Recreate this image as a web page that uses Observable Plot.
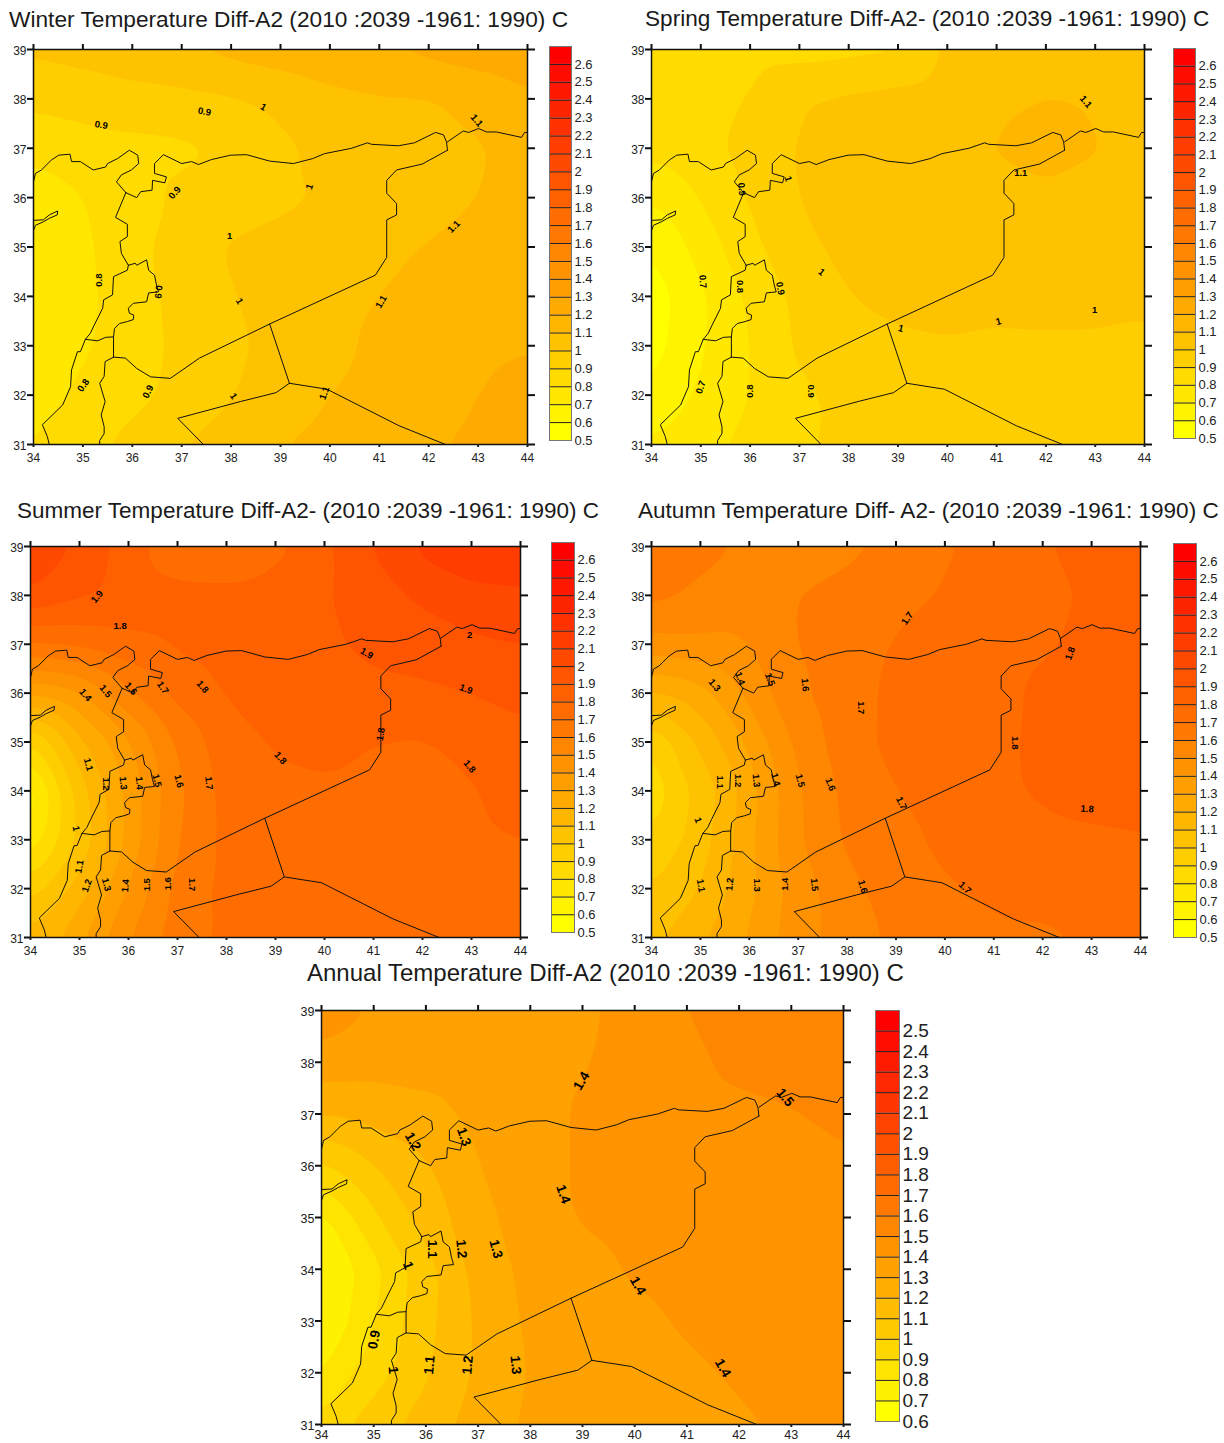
<!DOCTYPE html>
<html>
<head>
<meta charset="utf-8">
<script src="https://cdn.jsdelivr.net/npm/d3@7"></script>
<script src="https://cdn.jsdelivr.net/npm/@observablehq/plot@0.6"></script>
<style>
html,body{margin:0;padding:0;background:#fff}
#root{position:relative;width:1224px;height:1443px;overflow:hidden}
#root>*{position:absolute}
.ttl{font-family:"Liberation Sans",Arial,sans-serif;color:#1a1a1a;white-space:nowrap;line-height:1}
</style>
</head>
<body>
<div id="root"></div>
<script>
const lonColumns = [34,34.5,35,35.5,36,37,38,39,40,41,42,43,44];
const latRows = [39,38,37,36,35,34,33,32,31];
const lonTicks = [34,35,36,37,38,39,40,41,42,43,44];
const latTicks = [31,32,33,34,35,36,37,38,39];

const seasonLevels = [0.5,0.6,0.7,0.8,0.9,1,1.1,1.2,1.3,1.4,1.5,1.6,1.7,1.8,1.9,2,2.1,2.2,2.3,2.4,2.5,2.6];
const annualLevels = [0.6,0.7,0.8,0.9,1,1.1,1.2,1.3,1.4,1.5,1.6,1.7,1.8,1.9,2,2.1,2.2,2.3,2.4,2.5];

const winterValues = [
1.02,1.03,1.04,1.05,1.07,1.10,1.13,1.15,1.18,1.20,1.23,1.26,1.29,
.92,.93,.94,.95,.96,.97,.99,1.03,1.07,1.09,1.09,1.12,1.18,
.84,.85,.86,.87,.87,.88,.91,.98,1.03,1.06,1.08,1.09,1.13,
.72,.76,.80,.83,.86,.92,.95,.98,1.01,1.04,1.07,1.10,1.13,
.74,.76,.78,.82,.86,.96,1.01,1.03,1.05,1.08,1.105,1.13,1.15,
.74,.76,.78,.81,.855,.93,.995,1.04,1.07,1.10,1.13,1.15,1.17,
.74,.76,.785,.82,.86,.92,.98,1.03,1.075,1.12,1.15,1.18,1.195,
.76,.79,.82,.85,.87,.93,.995,1.05,1.10,1.13,1.16,1.20,1.23,
.80,.83,.87,.90,.93,1.0,1.05,1.10,1.13,1.16,1.19,1.22,1.25];

const springValues = [
.91,.90,.88,.87,.86,.86,.87,.88,1.02,1.05,1.07,1.08,1.08,
.84,.85,.87,.885,.905,.995,1.02,1.04,1.06,1.08,1.10,1.09,1.08,
.83,.85,.875,.90,.94,1.01,1.03,1.05,1.07,1.105,1.14,1.105,1.07,
.71,.75,.81,.86,.91,1.005,1.03,1.05,1.06,1.07,1.08,1.07,1.06,
.60,.67,.74,.81,.87,.98,1.02,1.04,1.05,1.05,1.05,1.05,1.04,
.55,.61,.68,.755,.82,.93,1.0,1.03,1.04,1.03,1.04,1.04,1.02,
.56,.62,.69,.75,.80,.92,.96,.98,.99,.98,.98,.98,.98,
.60,.67,.72,.76,.80,.88,.93,.95,.96,.97,.97,.97,.97,
.72,.75,.77,.80,.83,.89,.92,.94,.95,.96,.96,.96,.96];

const summerValues = [
2.12,2.04,1.98,1.92,1.85,1.72,1.68,1.77,1.88,2.01,2.13,2.18,2.2,
1.99,1.95,1.92,1.90,1.87,1.84,1.84,1.86,1.89,1.96,2.02,2.07,2.08,
1.70,1.71,1.73,1.75,1.78,1.81,1.84,1.86,1.88,1.93,1.95,1.98,2.0,
1.32,1.34,1.39,1.49,1.59,1.74,1.81,1.83,1.85,1.87,1.88,1.90,1.93,
.88,1.03,1.18,1.27,1.39,1.62,1.76,1.81,1.82,1.80,1.79,1.83,1.87,
.60,.86,1.05,1.19,1.33,1.58,1.74,1.78,1.79,1.78,1.78,1.79,1.84,
.72,.88,1.02,1.17,1.33,1.60,1.73,1.77,1.78,1.76,1.77,1.78,1.80,
.95,1.05,1.14,1.28,1.41,1.64,1.73,1.74,1.74,1.74,1.75,1.76,1.77,
1.15,1.19,1.28,1.40,1.50,1.66,1.72,1.74,1.75,1.75,1.75,1.76,1.77];
const summerSpot = [[37.5,37.4,1.95]];

const autumnValues = [
1.68,1.65,1.63,1.61,1.58,1.55,1.57,1.63,1.69,1.73,1.79,1.84,1.86,
1.63,1.605,1.58,1.56,1.55,1.60,1.64,1.67,1.71,1.75,1.78,1.81,1.83,
1.46,1.47,1.48,1.48,1.50,1.605,1.65,1.71,1.74,1.76,1.79,1.82,1.84,
1.19,1.21,1.26,1.35,1.43,1.58,1.67,1.72,1.74,1.77,1.82,1.84,1.85,
.90,1.02,1.12,1.22,1.32,1.53,1.66,1.73,1.76,1.78,1.82,1.84,1.84,
.82,.95,1.03,1.13,1.26,1.49,1.63,1.70,1.74,1.78,1.815,1.84,1.85,
.92,.98,1.05,1.16,1.28,1.49,1.62,1.67,1.72,1.75,1.77,1.78,1.79,
1.0,1.05,1.10,1.19,1.27,1.45,1.57,1.65,1.69,1.72,1.74,1.76,1.78,
1.09,1.12,1.19,1.25,1.31,1.46,1.55,1.62,1.65,1.68,1.68,1.71,1.75];

const annualValues = [
1.47,1.43,1.39,1.37,1.35,1.30,1.34,1.385,1.43,1.50,1.56,1.58,1.59,
1.36,1.35,1.34,1.34,1.34,1.35,1.37,1.395,1.43,1.47,1.53,1.56,1.58,
1.21,1.22,1.24,1.26,1.27,1.33,1.37,1.41,1.43,1.45,1.47,1.49,1.53,
.98,1.04,1.10,1.15,1.19,1.30,1.37,1.41,1.43,1.44,1.45,1.46,1.48,
.76,.88,.98,1.07,1.14,1.27,1.35,1.41,1.43,1.44,1.44,1.45,1.46,
.68,.77,.86,.97,1.06,1.24,1.33,1.37,1.41,1.43,1.44,1.45,1.46,
.70,.79,.90,.99,1.07,1.22,1.32,1.35,1.38,1.41,1.43,1.44,1.45,
.78,.89,.96,1.02,1.09,1.22,1.31,1.34,1.36,1.385,1.41,1.43,1.44,
.93,1.01,1.05,1.10,1.15,1.25,1.32,1.34,1.36,1.38,1.39,1.41,1.43];

const turkeyCoast = [[34,36.32],[34.04,36.49],[34.16,36.56],[34.36,36.76],[34.51,36.86],[34.74,36.88],[34.77,36.73],[34.95,36.73],[35.21,36.56],[35.46,36.62],[35.5,36.69],[35.7,36.79],[35.94,36.96],[36.11,36.86],[36.13,36.69],[35.98,36.56],[35.78,36.46],[35.68,36.32],[35.87,36.1]];
const syriaTurkey = [[35.87,36.1],[36.09,36],[36.17,36.12],[36.4,36.15],[36.41,36.35],[36.66,36.3],[36.69,36.42],[36.45,36.49],[36.45,36.69],[36.63,36.87],[37,36.69],[37.2,36.73],[37.34,36.67],[37.6,36.77],[37.99,36.86],[38.31,36.87],[38.78,36.74],[39.26,36.69],[39.65,36.79],[39.89,36.89],[40.44,37],[40.76,37.11],[40.84,37.08],[41.39,37.05],[41.71,37.11],[42.14,37.32],[42.3,37.27],[42.36,37.13],[42.38,36.96]];
const syriaIraqJordan = [[42.38,36.96],[41.87,36.68],[41.35,36.56],[41.15,36.35],[41.15,36.09],[41.35,35.88],[41.35,35.65],[41.15,35.55],[41.15,34.79],[40.92,34.43],[38.78,33.44],[37.36,32.75],[36.77,32.34],[36.37,32.37],[36.09,32.54],[35.86,32.75],[35.62,32.77]];
const turkeyIraq = [[42.38,37.13],[42.7,37.35],[42.81,37.32],[43.01,37.4],[43.17,37.33],[43.37,37.33],[43.88,37.22],[43.94,37.32],[44,37.32]];
const syriaCoast = [[35.87,36.1],[35.66,35.6],[35.9,35.46],[35.9,35.21],[35.75,35.11],[35.78,34.87],[35.92,34.63]];
const lebanonEast = [[35.92,34.63],[36.06,34.67],[36.09,34.63],[36.29,34.74],[36.33,34.53],[36.45,34.43],[36.49,34.23],[36.53,34.09],[36.33,34.07],[36.29,33.89],[36.02,33.86],[35.92,33.76],[35.94,33.66],[36.03,33.62],[36.02,33.53],[35.9,33.49],[35.74,33.45],[35.64,33.35],[35.62,33.18],[35.62,32.77]];
const levantCoast = [[35.92,34.63],[35.9,34.53],[35.62,34.4],[35.6,34.03],[35.42,33.93],[35.4,33.76],[35.23,33.42],[35.15,33.25],[35.05,33.13],[34.95,32.88],[34.89,32.88],[34.77,32.51],[34.75,32.17],[34.59,31.8],[34.18,31.4],[34.28,31.16],[34.32,31]];
const lebanonSouth = [[35.05,33.13],[35.3,33.1],[35.46,33.17],[35.62,33.18]];
const jordanRiver = [[35.62,32.77],[35.45,32.68],[35.43,32.38],[35.34,32.24],[35.45,31.87],[35.37,31.6],[35.43,31.36],[35.43,31.22],[35.34,31.08],[35.34,31]];
const cyprusTip = [[34,35.54],[34,35.33],[34.04,35.44],[34.2,35.51],[34.32,35.58],[34.48,35.65],[34.49,35.73],[34.32,35.65],[34.2,35.55],[34,35.54]];
const jordanIraqSaudi = [[38.78,33.44],[39.18,32.24],[38.91,32.05],[38.19,31.87],[36.92,31.53],[37.44,31]];
const iraqSaudi = [[39.18,32.24],[39.94,32.12],[41.4,31.38],[42.34,31]];
const borderSegments = [turkeyCoast,syriaTurkey,syriaIraqJordan,turkeyIraq,syriaCoast,lebanonEast,levantCoast,lebanonSouth,jordanRiver,cyprusTip,jordanIraqSaudi,iraqSaudi];

const winterLabels = [[35.37,37.47,"0.9",10],[37.46,37.74,"0.9",10],[38.65,37.83,"1",30],[42.97,37.56,"1.1",50],[39.59,36.22,"1",-70],[36.86,36.1,"0.9",-50],[37.97,35.22,"1",0],[42.51,35.41,"1.1",-45],[35.32,34.33,"0.8",-90],[36.53,34.09,"0.9",95],[38.17,33.9,"1",60],[41.04,33.89,"1.1",-60],[35.01,32.2,"0.8",-55],[36.32,32.07,"0.9",-65],[38.05,31.98,"1",55],[39.89,32.04,"1.1",-70]];
const springLabels = [[35.83,36.17,"0.9",85],[36.77,36.38,"1",75],[35.04,34.3,"0.7",85],[35.79,34.2,"0.8",90],[36.61,34.16,"0.9",80],[37.45,34.49,"1",40],[42.81,37.94,"1.1",50],[41.49,36.5,"1.1",0],[39.06,33.35,"1",15],[41.04,33.49,"1",-15],[42.99,33.72,"1",0],[35,32.16,"0.7",-70],[35.99,32.08,"0.8",-90],[37.24,32.08,"0.9",90]];
const summerLabels = [[35.36,37.97,"1.9",-50],[35.83,37.38,"1.8",0],[42.96,37.2,"2",0],[40.86,36.81,"1.9",30],[42.89,36.08,"1.9",20],[37.51,36.13,"1.8",50],[36.7,36.11,"1.7",55],[36.05,36.09,"1.6",50],[35.53,36.04,"1.5",50],[35.12,35.96,"1.4",50],[41.15,35.16,"1.8",-80],[39.1,34.67,"1.8",50],[42.96,34.5,"1.8",50],[35.18,34.54,"1.1",75],[35.55,34.14,"1.2",90],[35.89,34.16,"1.3",85],[36.22,34.16,"1.4",85],[36.58,34.21,"1.5",75],[37.03,34.2,"1.6",75],[37.64,34.16,"1.7",85],[34.93,33.23,"1",80],[35,32.45,"1.1",-80],[35.15,32.06,"1.2",-70],[35.55,32.08,"1.3",75],[35.94,32.06,"1.4",-85],[36.37,32.08,"1.5",-90],[36.81,32.1,"1.6",-90],[37.29,32.08,"1.7",90]];
const autumnLabels = [[39.23,37.53,"1.7",-55],[42.56,36.81,"1.8",-70],[35.29,36.16,"1.3",50],[35.81,36.3,"1.4",70],[36.42,36.28,"1.5",70],[37.14,36.17,"1.6",85],[38.29,35.7,"1.7",90],[41.43,34.98,"1.8",90],[35.4,34.18,"1.1",90],[35.76,34.21,"1.2",90],[36.14,34.21,"1.3",85],[36.54,34.23,"1.4",75],[37.04,34.21,"1.5",75],[37.66,34.13,"1.6",70],[39.11,33.75,"1.7",65],[42.91,33.63,"1.8",5],[34.95,33.4,"1",70],[35.01,32.06,"1.1",80],[35.6,32.09,"1.2",-85],[36.16,32.07,"1.3",90],[36.72,32.09,"1.4",-90],[37.33,32.08,"1.5",85],[38.32,32.04,"1.6",75],[40.41,32.02,"1.7",45]];
const annualLabels = [[38.98,37.64,"1.4",-60],[42.88,37.32,"1.5",50],[35.75,36.47,"1.2",60],[36.73,36.56,"1.3",70],[38.63,35.45,"1.4",70],[36.12,34.39,"1.1",90],[36.68,34.39,"1.2",85],[37.34,34.39,"1.3",75],[35.66,34.07,"1",70],[40.06,33.68,"1.4",60],[35.01,32.64,"0.9",-80],[35.37,32.05,"1",85],[36.07,32.15,"1.1",-85],[36.8,32.15,"1.2",-85],[37.72,32.15,"1.3",85],[41.69,32.09,"1.4",60]];

const panels = [
 {title:"Winter Temperature Diff-A2 (2010 :2039 -1961: 1990) C", tx:9, ty:8, fs:22.7, f:[33,527,49,444], lg:[549,571,46,440], values:winterValues, extra:[], labels:winterLabels, levels:seasonLevels, tick:12, xPad:6, lgf:13, lf:9.5},
 {title:"Spring Temperature Diff-A2- (2010 :2039 -1961: 1990) C", tx:645, ty:8, fs:22.6, f:[651,1144,49,444], lg:[1173,1195,48,438], values:springValues, extra:[], labels:springLabels, levels:seasonLevels, tick:12, xPad:6, lgf:13, lf:9.5},
 {title:"Summer Temperature Diff-A2- (2010 :2039 -1961: 1990) C", tx:17, ty:500, fs:22.5, f:[30,520,546,937], lg:[551,574,542,932], values:summerValues, extra:summerSpot, labels:summerLabels, levels:seasonLevels, tick:12, xPad:6, lgf:13, lf:9.5},
 {title:"Autumn Temperature Diff- A2- (2010 :2039 -1961: 1990) C", tx:638, ty:500, fs:22.55, f:[651,1140,546,937], lg:[1173,1196,543,937], values:autumnValues, extra:[], labels:autumnLabels, levels:seasonLevels, tick:12, xPad:6, lgf:13, lf:9.5},
 {title:"Annual Temperature Diff-A2 (2010 :2039 -1961: 1990) C", tx:307, ty:961, fs:24, f:[321,843,1010,1424], lg:[875,899,1010,1421], values:annualValues, extra:[], labels:annualLabels, levels:annualLevels, tick:12.5, xPad:3, lgf:19, lf:13.5}
];

const FONT = '"Liberation Sans Narrow","Liberation Sans",Arial,sans-serif';
const root = document.getElementById("root");

function colorScale(levels){
  const ramp = d3.interpolateRgb("#ffff00","#ff0000");
  const cols = levels.map((_,i)=>ramp(i/(levels.length-1)));
  return {type:"threshold", domain:levels, range:[cols[0],...cols]};
}

// The barycentric raster can leave a stray NaN pixel on a triangle edge; blur would then smear it.
const barycentric = Plot.interpolatorBarycentric();
function interpolateField(index,w,h,X,Y,V){
  const W = barycentric(index,w,h,X,Y,V);
  for (let i=0;i<W.length;i++) if (!(W[i]===W[i])) W[i] = i>0 ? W[i-1] : W[i+w];
  return W;
}

function place(el,x,y){ el.style.left=x+"px"; el.style.top=y+"px"; root.appendChild(el); }

for (const p of panels){
  const t=document.createElement("div");
  t.className="ttl"; t.textContent=p.title; t.style.fontSize=p.fs+"px";
  place(t,p.tx,p.ty);

  const [x1,x2,y1,y2]=p.f, mL=30,mR=12,mT=8,mB=26;
  const points=latRows.flatMap((lat,r)=>lonColumns.map((lon,c)=>({lon,lat,v:p.values[r*lonColumns.length+c]})))
    .concat(p.extra.map(([lon,lat,v])=>({lon,lat,v})));
  const border=borderSegments.flatMap((seg,i)=>seg.map(([lon,lat])=>({lon,lat,i})));
  const map=Plot.plot({
    width:x2-x1+mL+mR, height:y2-y1+mT+mB,
    marginLeft:mL,marginRight:mR,marginTop:mT,marginBottom:mB,
    style:{fontFamily:FONT,background:"transparent",overflow:"visible"},
    x:{domain:[34,44],axis:null}, y:{domain:[31,39],axis:null},
    color:colorScale(p.levels),
    marks:[
      Plot.contour(points,{x:"lon",y:"lat",value:"v",fill:"value",stroke:"none",thresholds:p.levels,interpolate:interpolateField,pixelSize:2,blur:5}),
      Plot.line(border,{x:"lon",y:"lat",z:"i",stroke:"#111",strokeWidth:1}),
      Plot.text(p.labels,{x:d=>d[0],y:d=>d[1],text:d=>d[2],rotate:d=>d[3],fontSize:p.lf,fontWeight:"bold",fontFamily:'"Liberation Sans",Arial,sans-serif',fill:"#000"}),
      Plot.frame({stroke:"#111",strokeWidth:1.5}),
      Plot.axisX({anchor:"bottom",ticks:lonTicks,tickSize:3,tickPadding:p.xPad,label:null,fontSize:p.tick,tickFormat:String,strokeWidth:2,color:"#222"}),
      Plot.axisX({anchor:"top",ticks:lonTicks,tickSize:6,label:null,fill:"none",strokeWidth:2,stroke:"#111"}),
      Plot.axisY({anchor:"left",ticks:latTicks,tickSize:6,label:null,fill:"none",strokeWidth:2,stroke:"#111"}),
      Plot.axisY({anchor:"left",ticks:latTicks,tickSize:6,tickPadding:1,dy:1.5,label:null,fontSize:p.tick,tickFormat:String,stroke:"none",fill:"#222"}),
      Plot.axisY({anchor:"right",ticks:latTicks,tickSize:7,label:null,fill:"none",strokeWidth:2,stroke:"#111"})
    ]
  });
  place(map,x1-mL,y1-mT);

  const [lx1,lx2,ly1,ly2]=p.lg, lW=lx2-lx1, lR=40;
  const lv=p.levels, step=0.1, top=Math.round((lv[lv.length-1]+step)*10)/10;
  const legend=Plot.plot({
    width:lW+lR+2, height:ly2-ly1+22,
    marginLeft:1,marginRight:lR+1,marginTop:1,marginBottom:21,
    style:{fontFamily:FONT,background:"transparent",overflow:"visible"},
    x:{domain:[0,1],axis:null}, y:{domain:[lv[0],top],axis:null},
    color:colorScale(lv),
    marks:[
      Plot.rect(lv,{x1:()=>0,x2:()=>1,y1:d=>d,y2:(d,i)=>i<lv.length-1?lv[i+1]:top,fill:d=>d}),
      Plot.ruleY(lv.slice(1),{stroke:"#222",strokeWidth:1}),
      Plot.frame({stroke:"#777",strokeWidth:1}),
      Plot.axisY({anchor:"right",ticks:lv,tickSize:0,tickPadding:3,label:null,fontSize:p.lgf,tickFormat:String,color:"#222"})
    ]
  });
  place(legend,lx1-1,ly1-1);
}
</script>
</body>
</html>
